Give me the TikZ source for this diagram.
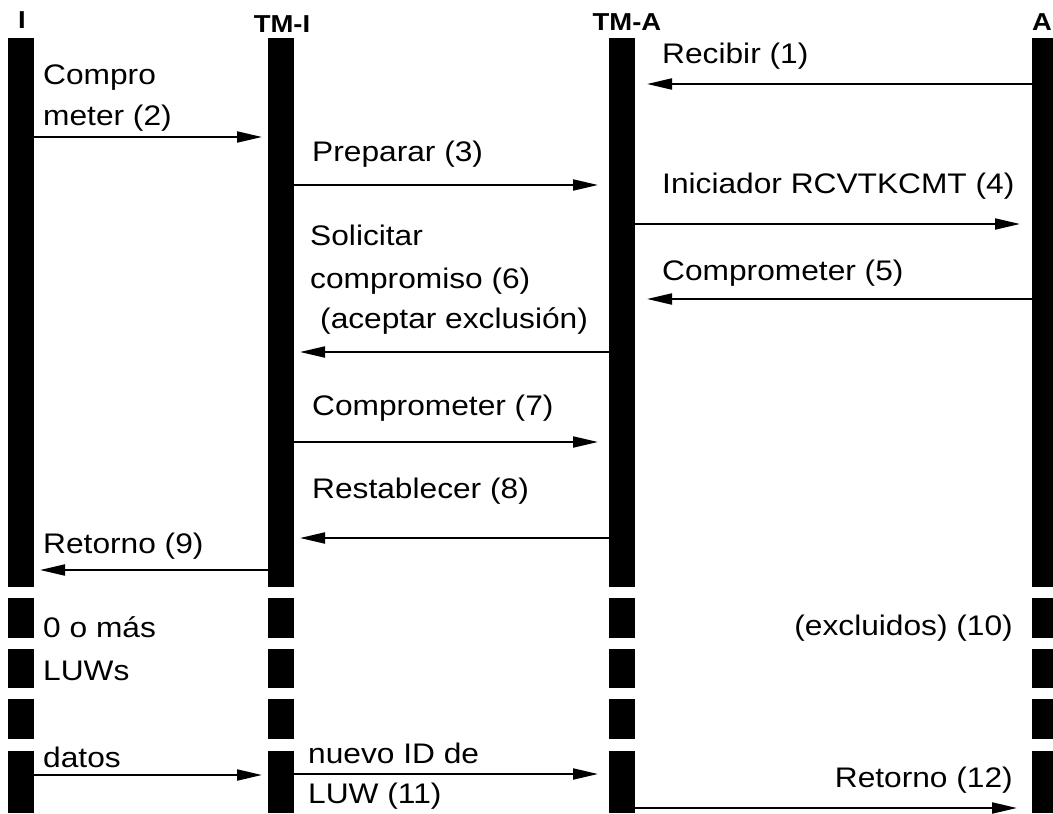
\documentclass[tikz,border=0pt]{standalone}
\usepackage{fontspec}
\setmainfont{Liberation Sans}[FakeStretch=1.12]
\usetikzlibrary{arrows.meta}
\begin{document}
\begin{tikzpicture}[x=1pt,y=-1pt,
  bar/.style={fill=black, draw=none, inner sep=0pt, outer sep=0pt, minimum width=26pt, anchor=north},
  msg/.style={line width=2pt, -{Triangle[length=25pt,width=11pt]}},
  lbl/.style={anchor=base west, inner sep=0pt, font=\fontsize{28.3}{32}\selectfont},
  lblr/.style={lbl, anchor=base east},
  hdr/.style={anchor=base, inner sep=0pt, font=\bfseries\fontsize{24.5}{27}\selectfont}]
\useasboundingbox (0,0) rectangle (1053,814);
\fill[white] (0,0) rectangle (1053,814);
% headers
\node[hdr] (hI) at (22,28) {I};
\node[hdr] (hTMI) at (282,32) {TM-I};
\node[hdr] (hTMA) at (627,30) {TM-A};
\node[hdr] (hA) at (1042,30) {A};
% bars
\foreach \n/\x in {I/21, TMI/280.5, TMA/622, A/1045}{
  \node[bar, minimum height=549pt] (\n0) at (\x,38) {};
  \node[bar, minimum height=40pt] (\n1) at (\x,598) {};
  \node[bar, minimum height=39pt] (\n2) at (\x,649) {};
  \node[bar, minimum height=40pt] (\n3) at (\x,699) {};
  \node[bar, minimum height=62pt] (\n4) at (\x,751) {};
}
% connector end points
\coordinate (m1s) at (1032,84);  \coordinate (m1e) at (647,84);
\coordinate (m2s) at (34,137);   \coordinate (m2e) at (262,137);
\coordinate (m3s) at (293,185);  \coordinate (m3e) at (598,185);
\coordinate (m4s) at (635,224);  \coordinate (m4e) at (1020,224);
\coordinate (m5s) at (1032,299); \coordinate (m5e) at (647,299);
\coordinate (m6s) at (609,352);  \coordinate (m6e) at (300,352);
\coordinate (m7s) at (293,442);  \coordinate (m7e) at (598,442);
\coordinate (m8s) at (609,538);  \coordinate (m8e) at (300,538);
\coordinate (m9s) at (268,570);  \coordinate (m9e) at (40,570);
\coordinate (mds) at (34,775);   \coordinate (mde) at (262,775);
\coordinate (m11s) at (293,774); \coordinate (m11e) at (598,774);
\coordinate (m12s) at (635,808); \coordinate (m12e) at (1017,808);
\foreach \m in {1,2,3,4,5,6,7,8,9,d,11,12}{
  \draw[msg] (m\m s) -- (m\m e);
}
% labels
\node[lbl] (t1) at (662,63) {Recibir (1)};
\node[lbl] (t2a) at (43,84) {Compro};
\node[lbl] (t2b) at (43,125) {meter (2)};
\node[lbl] (t3) at (312,161) {Preparar (3)};
\node[lbl] (t4) at (662,193) {Iniciador RCVTKCMT (4)};
\node[lbl] (t5) at (662,280) {Comprometer (5)};
\node[lbl] (t6a) at (310,245) {Solicitar};
\node[lbl] (t6b) at (310,288) {compromiso (6)};
\node[lbl] (t6c) at (320,328) {(aceptar exclusión)};
\node[lbl] (t7) at (312,415) {Comprometer (7)};
\node[lbl] (t8) at (312,498) {Restablecer (8)};
\node[lbl] (t9) at (43,553) {Retorno (9)};
\node[lbl] (t10a) at (43,637) {0 o más};
\node[lbl] (t10b) at (43,680) {LUWs};
\node[lblr] (t10) at (1013,635) {(excluidos) (10)};
\node[lbl] (td) at (43,767) {datos};
\node[lbl] (t11a) at (308,763) {nuevo ID de};
\node[lbl] (t11b) at (308,803) {LUW (11)};
\node[lblr] (t12) at (1013,787) {Retorno (12)};
\end{tikzpicture}
\end{document}
